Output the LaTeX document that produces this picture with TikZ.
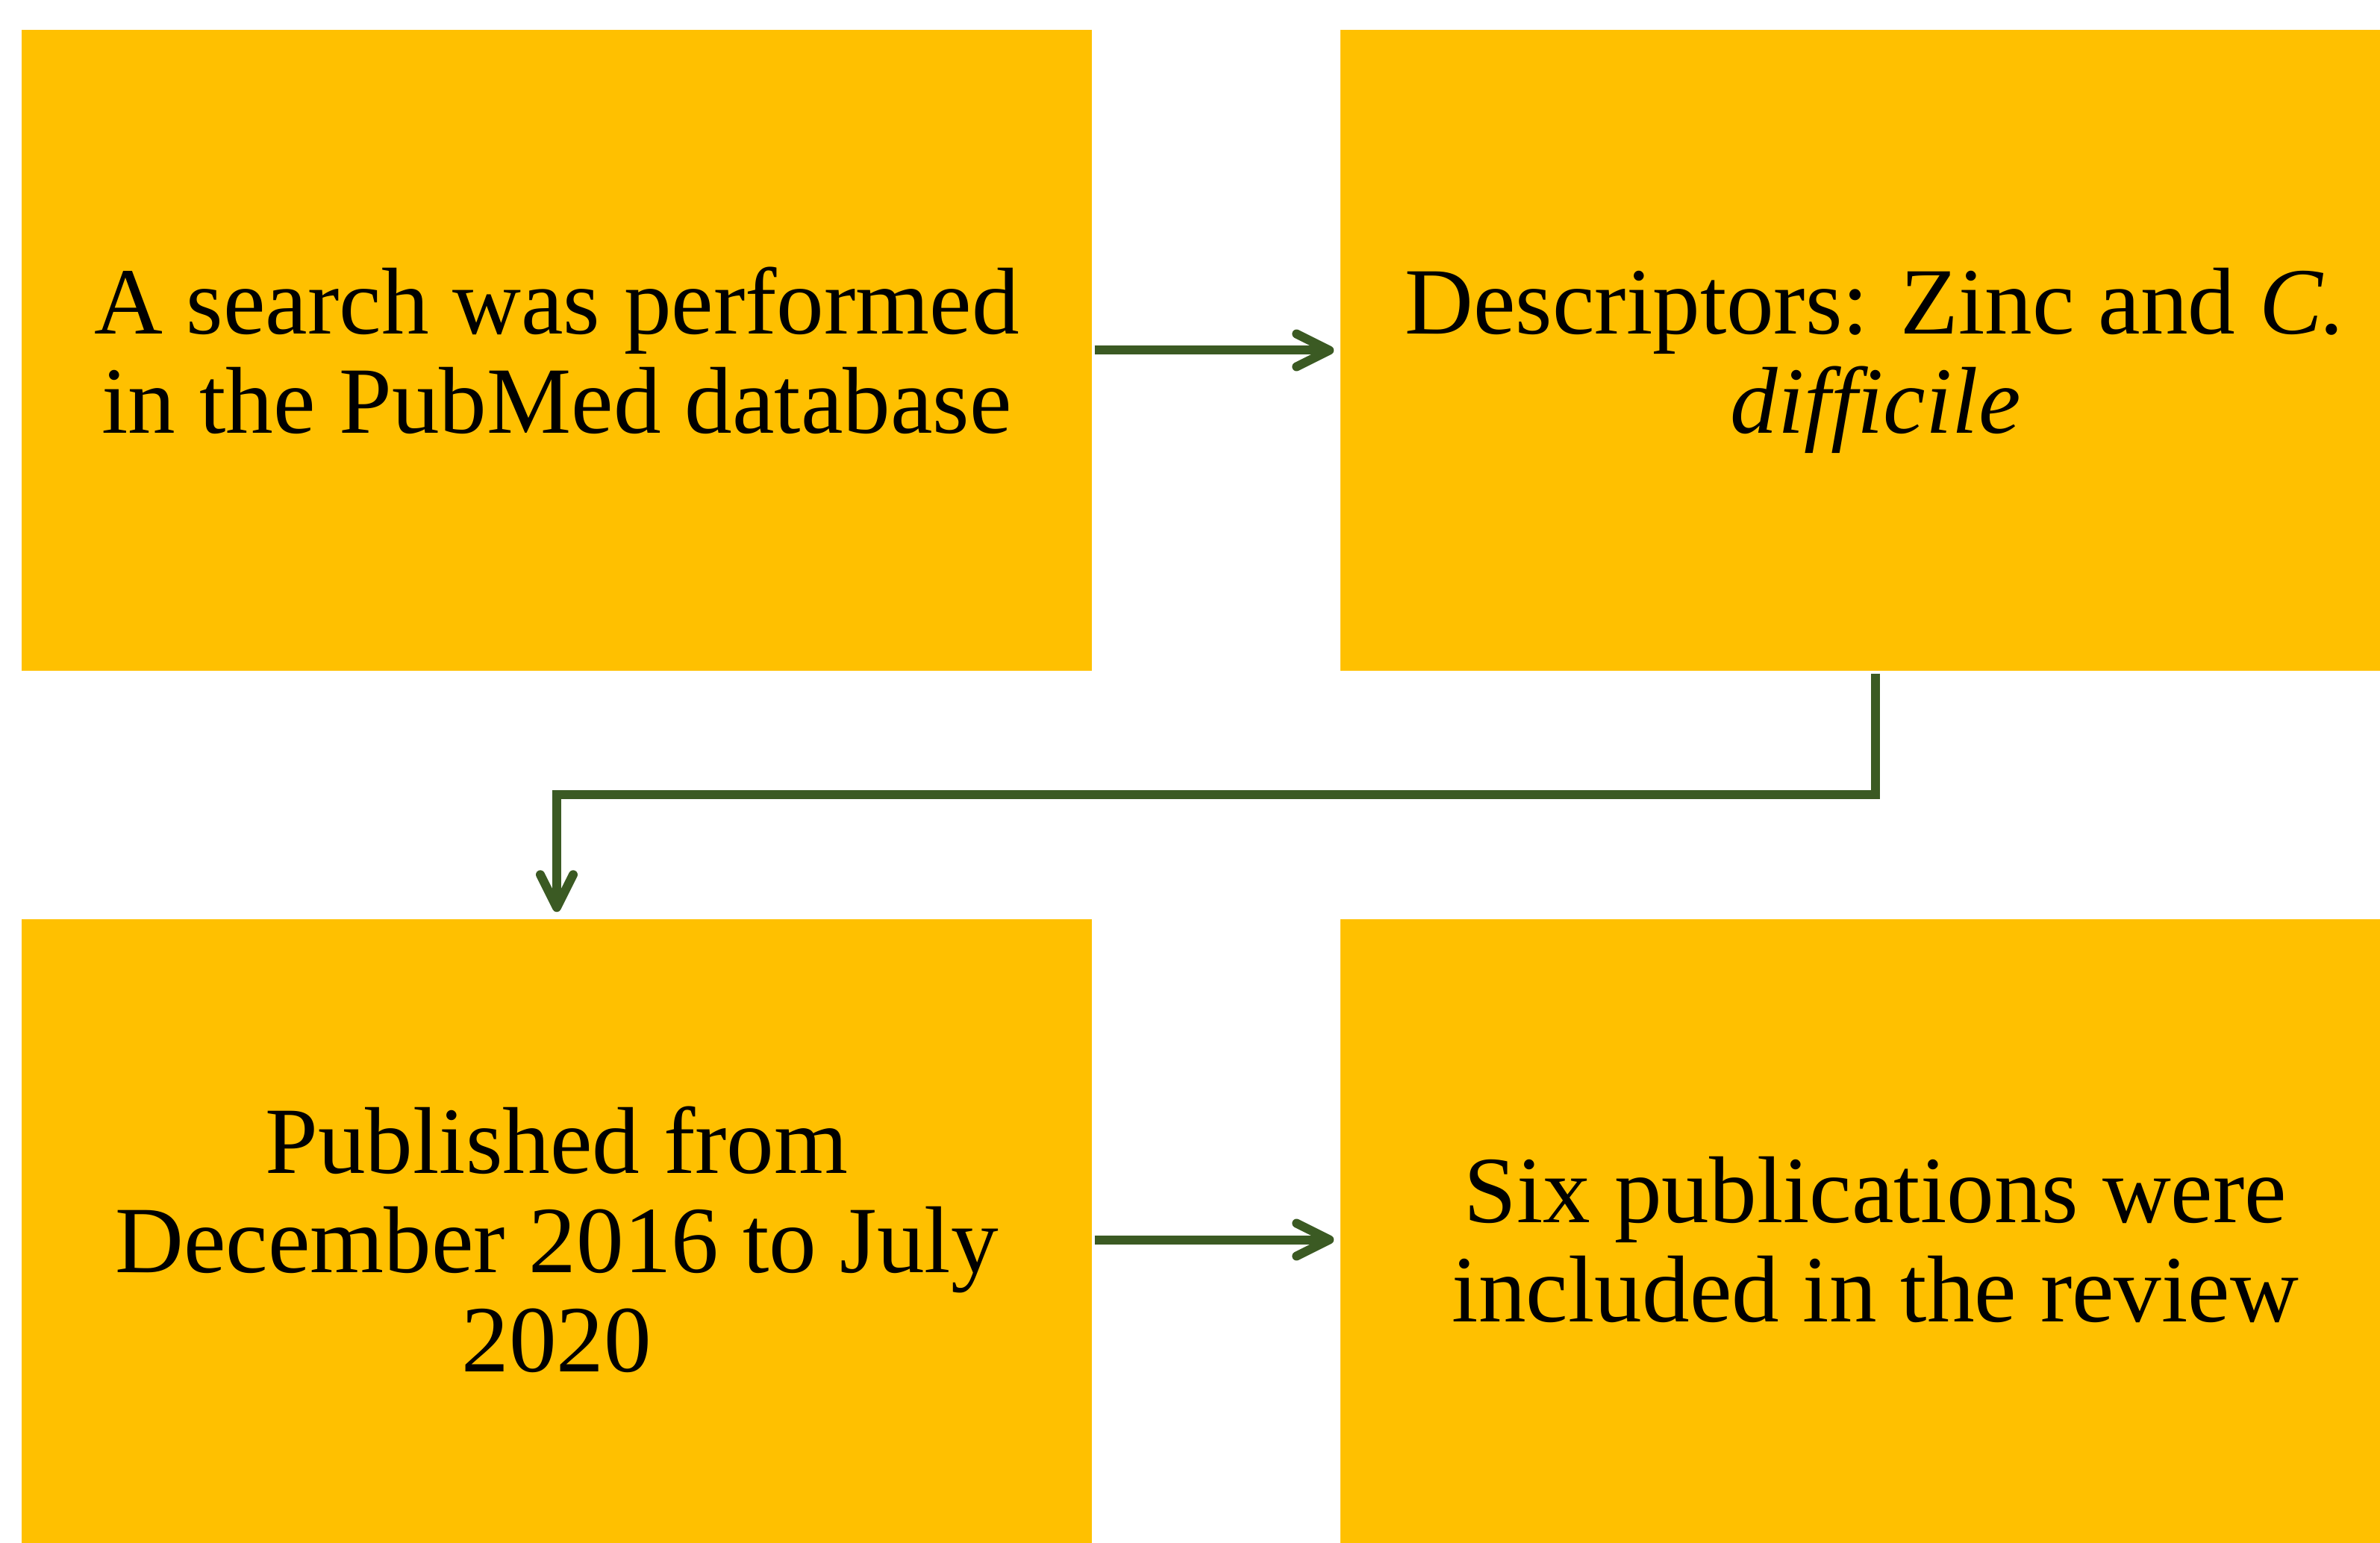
\documentclass[tikz,border=0pt]{standalone}
\usepackage{fontspec}
\setmainfont{Liberation Serif}
\usetikzlibrary{arrows.meta}
\definecolor{boxgold}{RGB}{255,192,0}
\definecolor{arrgreen}{RGB}{59,90,35}
\tikzset{
  flowbox/.style={fill=boxgold, draw=none, minimum width=14.34cm, minimum height=8.59cm,
    align=center, inner sep=0pt, font=\fontsize{36.2}{37.8}\selectfont},
  flowarrow/.style={draw=arrgreen, line width=0.12cm,
    -{Straight Barb[length=0.44cm, width=0.44cm, line cap=round, line join=round]}}
}
\begin{document}
\begin{tikzpicture}
\useasboundingbox (0,0) rectangle (31.89,-20.68);
\clip (0,0) rectangle (31.89,-20.68);
\node[flowbox] (b1) at (7.46,-4.695) {A search was performed\\in the PubMed database};
\node[flowbox] (b2) at (25.13,-4.695) {Descriptors: Zinc and \textit{C.}\\\smash{\textit{difficile}}};
\node[flowbox] (b3) at (7.46,-16.615) {Published from\\December 2016 to July\\2020};
\node[flowbox] (b4) at (25.13,-16.615) {Six publications were\\included in the review};
\coordinate (elbow) at (25.13,-10.65);
\draw[flowarrow, shorten <=0.03cm, shorten >=0.08cm] (b1) -- (b2);
\draw[flowarrow, shorten <=0.03cm, shorten >=0.08cm] (b3) -- (b4);
\draw[flowarrow, line join=miter, shorten <=0.03cm, shorten >=0.09cm] (b2.south) -- (elbow) -| (b3.north);
\end{tikzpicture}
\end{document}
